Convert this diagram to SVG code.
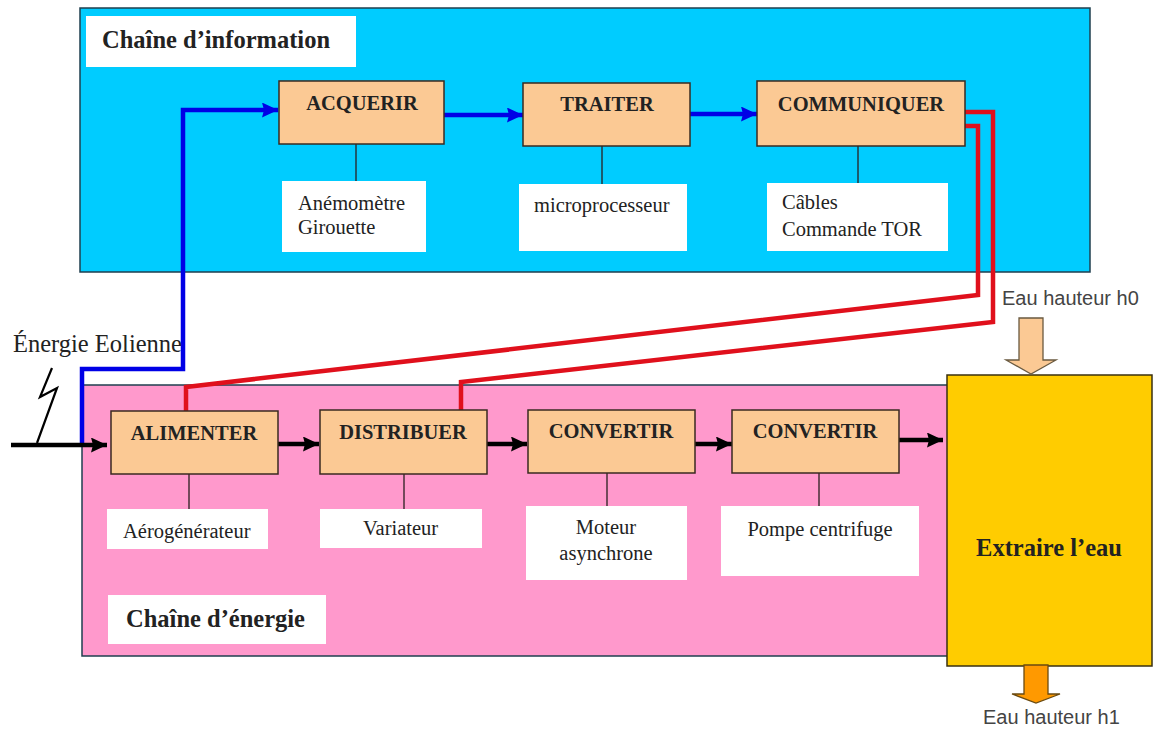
<svg xmlns="http://www.w3.org/2000/svg" width="1155" height="729" viewBox="0 0 1155 729">
<defs>
<marker id="bl" markerUnits="userSpaceOnUse" markerWidth="16" markerHeight="15" refX="16" refY="7.5" orient="auto"><path d="M0 0L16 7.5L0 15L2 7.5z" fill="#0000e6"/></marker>
<marker id="bk" markerUnits="userSpaceOnUse" markerWidth="16" markerHeight="15" refX="16" refY="7.5" orient="auto"><path d="M0 0L16 7.5L0 15L2 7.5z" fill="#000"/></marker>
</defs>
<style>
.panel{stroke:#1f3f4f;stroke-width:1.5}
.box{fill:#fbc994;stroke:#3a2a20;stroke-width:1.5}
.w{fill:#fff}
.t{font-family:"Liberation Serif",serif;fill:#222}
.b{font-weight:bold;font-size:20.5px;text-anchor:middle}
.s{font-size:20.5px}
.l{font-weight:bold;font-size:24.5px}
.h{font-family:"Liberation Sans",sans-serif;font-size:20px;fill:#444}
.stem{stroke:#2a2020;stroke-width:1.3;fill:none}
.blue{stroke:#0000e6;stroke-width:4.5;fill:none}
.red{stroke:#e0101c;stroke-width:4.5;fill:none}
.blk{stroke:#000;stroke-width:4.5;fill:none}
</style>
<rect width="1155" height="729" fill="#fff"/>
<g id="chaine-information">
<rect class="panel" x="80" y="8" width="1010" height="264" fill="#00ccff"/>
<rect class="w" x="86" y="16" width="270" height="51"/>
<text class="t l" x="102" y="48">Chaîne d’information</text>
</g>
<g id="chaine-energie">
<rect class="panel" x="82" y="385" width="870" height="271" fill="#ff99cc"/>
<rect class="w" x="108" y="595" width="218" height="49"/>
<text class="t l" x="126" y="627">Chaîne d’énergie</text>
</g>
<g id="connectors">
<path class="stem" d="M356 144V181M602 146V184M858 146V183M189 474V509M404 474V509M607 473V506M819 473V506"/>
<path class="blue" marker-end="url(#bl)" d="M82 443V369H183V110H278"/>
<path class="blue" marker-end="url(#bl)" d="M444 115H523"/>
<path class="blue" marker-end="url(#bl)" d="M690 114H757"/>
<path class="red" d="M965 112H993V322L461 382V410"/>
<path class="red" d="M965 126H978V295L186 387V411"/>
<path class="blk" marker-end="url(#bk)" d="M11 445H107"/>
<path d="M37 443L57 388L40 397L52 368" stroke="#000" stroke-width="2.2" fill="none"/>
<path class="blk" marker-end="url(#bk)" d="M278 444H319"/>
<path class="blk" marker-end="url(#bk)" d="M487 444H527"/>
<path class="blk" marker-end="url(#bk)" d="M695 444H732"/>
<path class="blk" marker-end="url(#bk)" d="M899 440H943"/>
</g>
<g id="acquerir"><rect class="box" x="279" y="81" width="165" height="63"/><text class="t b" x="362" y="110">ACQUERIR</text></g>
<g id="traiter"><rect class="box" x="523" y="83" width="167" height="63"/><text class="t b" x="607" y="111">TRAITER</text></g>
<g id="communiquer"><rect class="box" x="757" y="81" width="208" height="65"/><text class="t b" x="861" y="111">COMMUNIQUER</text></g>
<g id="anemometre"><rect class="w" x="282" y="181" width="144" height="71"/><text class="t s" x="298" y="210">Anémomètre</text><text class="t s" x="298" y="234">Girouette</text></g>
<g id="microprocesseur"><rect class="w" x="519" y="184" width="168" height="67"/><text class="t s" x="534" y="212">microprocesseur</text></g>
<g id="cables"><rect class="w" x="767" y="183" width="181" height="68"/><text class="t s" x="782" y="209">Câbles</text><text class="t s" x="782" y="236">Commande TOR</text></g>
<g id="alimenter"><rect class="box" x="111" y="411" width="167" height="63"/><text class="t b" x="194" y="440">ALIMENTER</text></g>
<g id="distribuer"><rect class="box" x="320" y="410" width="167" height="64"/><text class="t b" x="403" y="439">DISTRIBUER</text></g>
<g id="convertir1"><rect class="box" x="528" y="410" width="167" height="63"/><text class="t b" x="611" y="438">CONVERTIR</text></g>
<g id="convertir2"><rect class="box" x="732" y="410" width="167" height="63"/><text class="t b" x="815" y="438">CONVERTIR</text></g>
<g id="aerogenerateur"><rect class="w" x="107" y="509" width="161" height="40"/><text class="t s" x="123" y="538">Aérogénérateur</text></g>
<g id="variateur"><rect class="w" x="320" y="509" width="162" height="39"/><text class="t s" x="363" y="535">Variateur</text></g>
<g id="moteur"><rect class="w" x="526" y="506" width="161" height="74"/><text class="t s" x="606" y="534" text-anchor="middle">Moteur</text><text class="t s" x="606" y="560" text-anchor="middle">asynchrone</text></g>
<g id="pompe"><rect class="w" x="721" y="506" width="198" height="70"/><text class="t s" x="820" y="536" text-anchor="middle">Pompe centrifuge</text></g>
<g id="extraire"><rect x="947" y="375" width="205" height="291" fill="#ffcc00" stroke="#3a3010" stroke-width="1.5"/><text class="t l" x="1049" y="556" text-anchor="middle">Extraire l’eau</text></g>
<g id="eau-h0"><path d="M1019 318H1043V360H1056L1031 374L1006 360H1019z" fill="#fbc994" stroke="#6a5a40" stroke-width="1.3"/><text class="h" x="1002" y="305">Eau hauteur h0</text></g>
<g id="eau-h1"><path d="M1024 665H1048V694H1060L1036 703L1012 694H1024z" fill="#ff9900" stroke="#6a4a10" stroke-width="1.3"/><text class="h" x="983" y="724">Eau hauteur h1</text></g>
<text id="energie-eolienne" class="t" x="13" y="352" font-size="24.5">Énergie Eolienne</text>
</svg>
